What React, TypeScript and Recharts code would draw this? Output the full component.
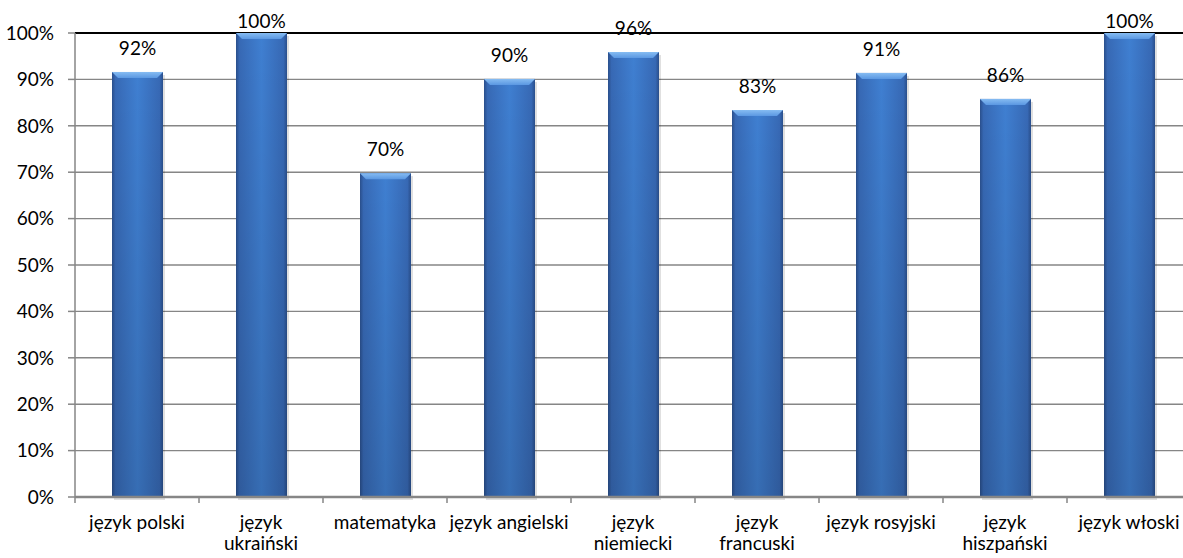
import React from 'react';
import { BarChart, Bar, XAxis, YAxis, CartesianGrid, LabelList } from 'recharts';

const subjects = [
  'język polski',
  'język\nukraiński',
  'matematyka',
  'język angielski',
  'język\nniemiecki',
  'język\nfrancuski',
  'język rosyjski',
  'język\nhiszpański',
  'język włoski',
];
const shares = [91.6, 100, 69.8, 90.1, 95.9, 83.4, 91.4, 85.8, 100];
const yTicks = [0, 10, 20, 30, 40, 50, 60, 70, 80, 90, 100];
const topLine = [100];

const data = subjects.map((name, i) => ({ name, value: shares[i] }));

const FONT = 'Lato, "Open Sans", sans-serif';
const FS = 19;

const BevelBar = (props: any) => {
  const { x, y, width, height } = props;
  if (!height || height <= 0) return null;
  const b = Math.min(6, height / 2);
  return (
    <g>
      <rect x={x + 2} y={y + 3} width={width} height={height} fill="rgba(0,0,0,0.12)" />
      <rect x={x} y={y} width={width} height={height} fill="url(#barBody)" />
      <rect x={x} y={y} width={width} height={height} fill="url(#barShade)" />
      <polygon
        points={`${x},${y} ${x + width},${y} ${x + width - b},${y + b} ${x + b},${y + b}`}
        fill="url(#barBevel)"
      />
    </g>
  );
};

const ValueLabel = (props: any) => {
  const { x, y, width, value } = props;
  const baseline = Math.max(y - 17, 28);
  return (
    <text x={x + width / 2} y={baseline} textAnchor="middle" fill="#000" fontSize={FS} fontFamily={FONT}>
      {Math.round(value)}%
    </text>
  );
};

const SubjectTick = (props: any) => {
  const { x, y, payload, width, visibleTicksCount } = props;
  const band = width && visibleTicksCount ? width / visibleTicksCount : 2 * (payload?.offset ?? 0);
  const lines = String(payload.value).split('\n');
  return (
    <g>
      <line x1={x - band / 2} y1={y} x2={x - band / 2} y2={y + 6} stroke="#868686" strokeWidth={1.5} />
      <text textAnchor="middle" fill="#000" fontSize={FS} fontFamily={FONT}>
        {lines.map((l, i) => (
          <tspan key={i} x={x} y={y + 32 + i * 21}>
            {l}
          </tspan>
        ))}
      </text>
    </g>
  );
};

export default function App() {
  return (
    <div style={{ position: 'absolute', left: 0, top: 0, width: 1183, height: 558, overflow: 'hidden', background: '#fff' }}>
      <BarChart
        width={1191}
        height={558}
        data={data}
        margin={{ top: 33, right: 0, bottom: 0, left: 0 }}
        style={{ fontFamily: FONT }}
      >
        <defs>
          <linearGradient id="barBody" x1="0" y1="0" x2="1" y2="0">
            <stop offset="0%" stopColor="#2a4f8c" />
            <stop offset="7%" stopColor="#3769b5" />
            <stop offset="50%" stopColor="#3f7fd1" />
            <stop offset="93%" stopColor="#3769b5" />
            <stop offset="100%" stopColor="#2a4f8c" />
          </linearGradient>
          <linearGradient id="barShade" x1="0" y1="0" x2="0" y2="1">
            <stop offset="0%" stopColor="#000" stopOpacity={0} />
            <stop offset="100%" stopColor="#000" stopOpacity={0.14} />
          </linearGradient>
          <linearGradient id="barBevel" x1="0" y1="0" x2="0" y2="1">
            <stop offset="0%" stopColor="#86bcf2" />
            <stop offset="100%" stopColor="#5b98e2" />
          </linearGradient>
        </defs>
        <CartesianGrid vertical={false} stroke="#868686" strokeWidth={1.4} />
        <CartesianGrid vertical={false} horizontalValues={topLine} stroke="#000" strokeWidth={2} />
        <XAxis
          dataKey="name"
          interval={0}
          height={61}
          tickSize={0}
          tickMargin={0}
          axisLine={{ stroke: '#868686', strokeWidth: 2.5 }}
          tick={<SubjectTick />}
        />
        <YAxis
          domain={[0, 100]}
          ticks={yTicks}
          width={75}
          tickSize={7}
          tickMargin={14}
          tickFormatter={(v: number) => `${v}%`}
          axisLine={{ stroke: '#868686', strokeWidth: 1.5 }}
          tickLine={{ stroke: '#868686', strokeWidth: 1.5 }}
          tick={{ fill: '#000', fontSize: FS, fontFamily: FONT }}
        />
        <Bar dataKey="value" barSize={51} shape={<BevelBar />} isAnimationActive={false}>
          <LabelList dataKey="value" content={<ValueLabel />} />
        </Bar>
      </BarChart>
    </div>
  );
}
